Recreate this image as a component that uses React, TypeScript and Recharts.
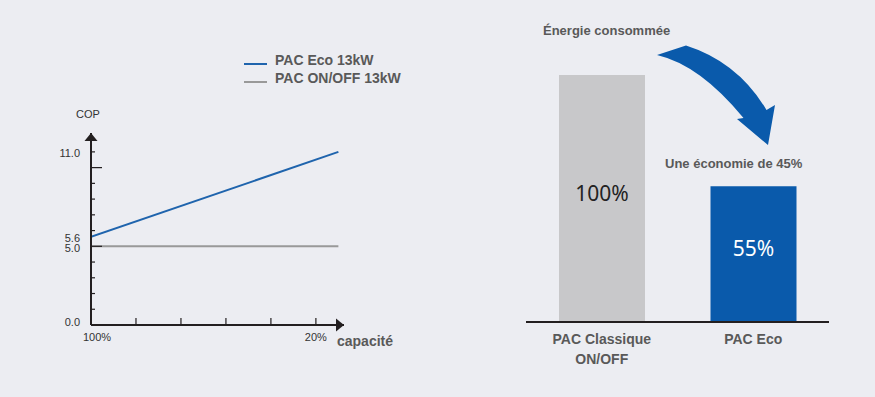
import { LineChart, Line, XAxis, YAxis, Legend, ReferenceDot, BarChart, Bar, Cell, LabelList } from 'recharts'

// left chart: COP vs capacity
const capacity = [100, 12]
const copEco = [5.6, 11.0]
const copOnOff = [5.0, 5.0]
const seriesNames = ['PAC Eco 13kW', 'PAC ON/OFF 13kW']
const capTicks = [100, 84, 68, 52, 36, 20]
const capLabels: Record<number, string> = { 100: '100%', 20: '20%' }
const copTicks = [0, 1, 2, 3, 4, 5, 6, 7, 8, 9, 10, 11, 5.6]
const copLabels: Record<string, string> = { '0': '0.0', '5': '5.0', '5.6': '5.6', '11': '11.0' }

// right chart: energy consumed
const energyCats = ['PAC Classique\nON/OFF', 'PAC Eco']
const energyValues = [100, 55]
const energyLabels = ['100%', '55%']

const BG = '#ecedf2'
const AXIS = '#231f20'
const BLUE = '#1f64ad'
const BAR_BLUE = '#0a5aab'
const GRAY_LINE = '#999999'
const TXT = '#595959'
const FONT = '"Liberation Sans", Arial, sans-serif'

const lineData = capacity.map((c, i) => ({ cap: c, eco: copEco[i], onoff: copOnOff[i] }))
const barData = energyCats.map((c, i) => ({ cat: c, value: energyValues[i], label: energyLabels[i] }))
const barColors = ['#c8c8ca', BAR_BLUE]
const labelColors = ['#222222', '#ffffff']

function CapTick(props: any) {
  const { x, y, payload } = props
  const v = payload.value
  const lab = capLabels[v]
  return (
    <g>
      {v !== 100 && <line x1={x} x2={x} y1={y} y2={y - 7} stroke={AXIS} strokeWidth={1.2} />}
      {lab && (
        <text x={x + (v === 100 ? 6 : 0)} y={y + 16} textAnchor="middle" fontSize={11} fill="#333" fontFamily={FONT}>
          {lab}
        </text>
      )}
    </g>
  )
}

function CopTick(props: any) {
  const { x, y, payload } = props
  const v = payload.value
  const lab = copLabels[String(v)]
  const len = v === 5 || v === 10 ? 11 : 4
  return (
    <g>
      {Number.isInteger(v) && v !== 0 && <line x1={x} x2={x + len} y1={y} y2={y} stroke={AXIS} strokeWidth={1.2} />}
      {lab && (
        <text x={x - 11} y={y + (v === 0 ? 1 : v === 5 ? 6 : 5)} textAnchor="end" fontSize={11} fill="#333" fontFamily={FONT}>
          {lab}
        </text>
      )}
    </g>
  )
}

const UpArrow = (props: any) => {
  const { cx, cy } = props
  return (
    <g>
      <path d={`M${cx} ${cy} L${cx - 6.5} ${cy + 8} L${cx + 6.5} ${cy + 8} Z`} fill={AXIS} />
      <text x={cx - 3} y={cy - 15} textAnchor="middle" fontSize={11} fill="#333" fontFamily={FONT}>COP</text>
    </g>
  )
}

const RightArrow = (props: any) => {
  const { cx, cy } = props
  return (
    <g>
      <path d={`M${cx} ${cy} L${cx - 8} ${cy - 6.5} L${cx - 8} ${cy + 6.5} Z`} fill={AXIS} />
      <text x={cx - 7} y={cy + 21} fontSize={14} fontWeight="bold" fill={TXT} fontFamily={FONT}>capacité</text>
    </g>
  )
}

const renderLegend = (props: any) => (
  <div style={{ fontFamily: FONT, fontWeight: 'bold', fontSize: 14, color: TXT }}>
    {(props.payload || []).map((p: any) => (
      <div key={p.value} style={{ display: 'flex', alignItems: 'center', height: 18, whiteSpace: 'nowrap' }}>
        <span style={{ display: 'inline-block', width: 23, height: 2, background: p.color, marginRight: 8, marginTop: 8 }} />
        <span>{p.value}</span>
      </div>
    ))}
  </div>
)

function CatTick(props: any) {
  const { x, y, payload } = props
  const lines = String(payload.value).split('\n')
  return (
    <text x={x} y={y + 22} textAnchor="middle" fontSize={14} fontWeight="bold" fill={TXT} fontFamily={FONT}>
      {lines.map((l, i) => (
        <tspan key={i} x={x} dy={i === 0 ? 0 : 20}>{l}</tspan>
      ))}
    </text>
  )
}

const renderBarLabel = (props: any) => {
  const { x, y, width, height, value, index } = props
  return (
    <text x={x + width / 2} y={y + height / 2 + 2} textAnchor="middle" fontSize={21} fill={labelColors[index] ?? '#222'} fontFamily='"Noto Sans", sans-serif'>
      {value}
    </text>
  )
}

export default function App() {
  return (
    <div style={{ position: 'absolute', left: 0, top: 0, width: 875, height: 397, background: BG, overflow: 'hidden' }}>
      <div style={{ position: 'absolute', left: 0, top: 0 }}>
        <LineChart width={420} height={397} data={lineData} margin={{ top: 133, right: 76, left: 51, bottom: 42 }}>
          <XAxis dataKey="cap" type="number" domain={[10, 100]} reversed allowDataOverflow ticks={capTicks} interval={0}
            height={30} tickSize={0} tickMargin={0} tick={<CapTick />} axisLine={{ stroke: AXIS, strokeWidth: 2 }} />
          <YAxis type="number" domain={[0, 12.2]} allowDataOverflow ticks={copTicks} interval={0} width={40}
            tickSize={0} tickMargin={0} tick={<CopTick />} axisLine={{ stroke: AXIS, strokeWidth: 2 }} />
          <Legend layout="vertical" align="center" verticalAlign="middle" content={renderLegend}
            wrapperStyle={{ top: 51, left: 244, width: 200 }} />
          <Line dataKey="eco" name={seriesNames[0]} stroke={BLUE} strokeWidth={2} dot={false} isAnimationActive={false} />
          <Line dataKey="onoff" name={seriesNames[1]} stroke={GRAY_LINE} strokeWidth={2} dot={false} isAnimationActive={false} />
          <ReferenceDot x={100} y={12.2} ifOverflow="visible" shape={<UpArrow />} />
          <ReferenceDot x={10} y={0} ifOverflow="visible" shape={<RightArrow />} />
        </LineChart>
      </div>
      <div style={{ position: 'absolute', left: 480, top: 0 }}>
        <BarChart width={395} height={397} data={barData} margin={{ top: 75, right: 46, left: 46, bottom: 35 }}>
          <XAxis dataKey="cat" height={40} tickSize={0} tickMargin={0} interval={0} tick={<CatTick />}
            axisLine={{ stroke: AXIS, strokeWidth: 2 }} />
          <YAxis hide domain={[0, 100]} />
          <Bar dataKey="value" barSize={86} isAnimationActive={false}>
            {barData.map((d, i) => <Cell key={d.cat} fill={barColors[i]} />)}
            <LabelList dataKey="label" content={renderBarLabel} />
          </Bar>
        </BarChart>
      </div>
      <svg width={875} height={397} style={{ position: 'absolute', left: 0, top: 0, pointerEvents: 'none' }}>
        <text x={543} y={35} fontSize={13} fontWeight="bold" fill={TXT} fontFamily={FONT}>Énergie consommée</text>
        <path d="M657 55 L686 45.5 Q738 62 766.5 110 L775 105 L768 145 L737 119 L743.5 118 Q700 65 657 55 Z" fill={BAR_BLUE} />
        <text x={665} y={168} fontSize={13} fontWeight="bold" fill={TXT} fontFamily={FONT}>Une économie de 45%</text>
      </svg>
    </div>
  )
}
